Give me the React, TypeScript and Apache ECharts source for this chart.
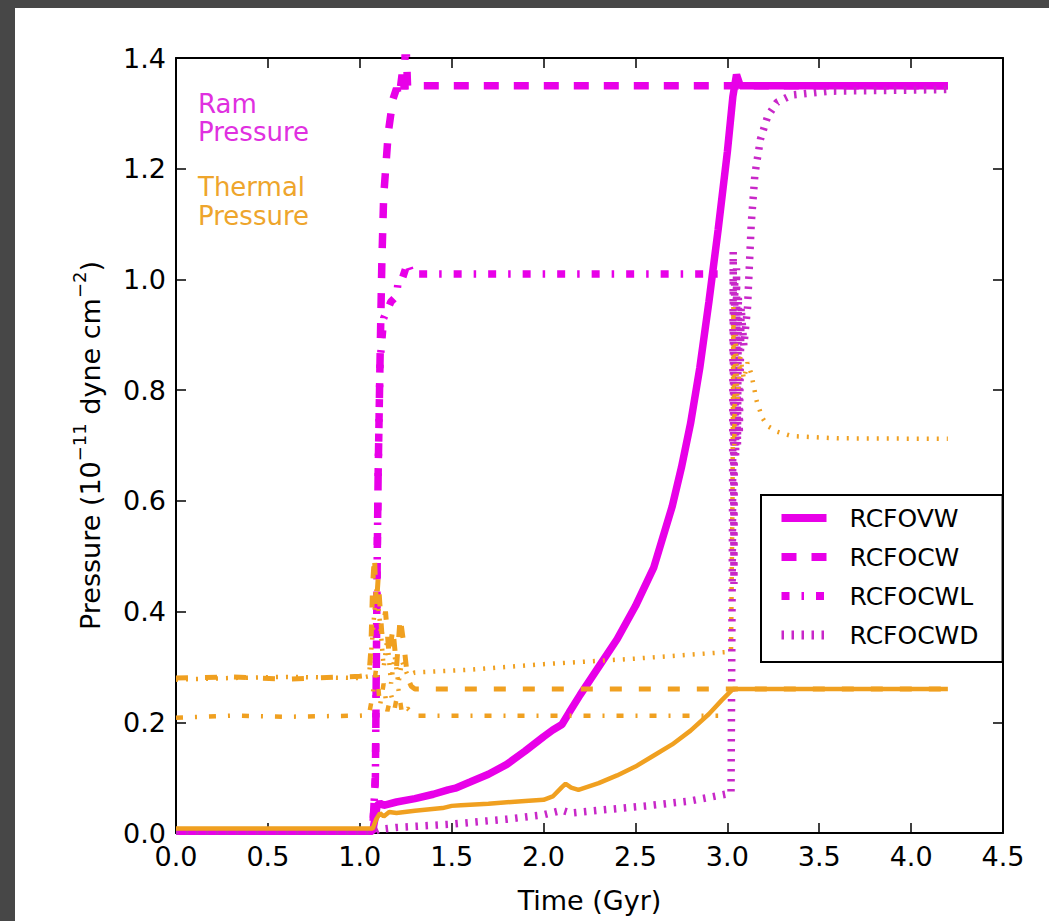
import React, { useEffect, useRef } from "react";
import * as echarts from "echarts";

const FONT = "'DejaVu Sans', 'Liberation Sans', sans-serif";
const MAGENTA = "#e800e8";
const MAGENTA_DOT = "#c828c8";
const ORANGE = "#f0a020";

const xTicks = { min: 0, max: 4.5, interval: 0.5 };
const yTicks = { min: 0, max: 1.4, interval: 0.2 };

const seriesNames = ["RCFOVW", "RCFOCW", "RCFOCWL", "RCFOCWD"];

// Ram pressure [time (Gyr), pressure]
const ramVW: number[][] = [
  [0, 0.003], [1.07, 0.003], [1.085, 0.03], [1.095, 0.05], [1.11, 0.054], [1.13, 0.05],
  [1.2, 0.056], [1.3, 0.062], [1.4, 0.07], [1.48, 0.078], [1.52, 0.081], [1.6, 0.092],
  [1.7, 0.106], [1.8, 0.124], [1.9, 0.148], [2.0, 0.174], [2.05, 0.186], [2.1, 0.196],
  [2.14, 0.218], [2.2, 0.25], [2.3, 0.3], [2.4, 0.35], [2.5, 0.41], [2.6, 0.48],
  [2.7, 0.59], [2.75, 0.66], [2.8, 0.74], [2.85, 0.84], [2.9, 0.96], [2.95, 1.09],
  [3.0, 1.23], [3.03, 1.33], [3.05, 1.37], [3.07, 1.35], [4.2, 1.35],
];
const ramCW: number[][] = [
  [0, 0.003], [1.07, 0.003], [1.085, 0.1], [1.09, 0.3], [1.095, 0.5], [1.1, 0.65],
  [1.11, 0.85], [1.12, 1.03], [1.13, 1.15], [1.155, 1.265], [1.18, 1.325], [1.2, 1.345],
  [1.215, 1.33], [1.23, 1.37], [1.24, 1.34], [1.25, 1.44], [1.26, 1.35], [1.3, 1.35],
  [4.2, 1.35],
];
const ramCWL: number[][] = [
  [0, 0.003], [1.07, 0.003], [1.085, 0.1], [1.09, 0.3], [1.095, 0.5], [1.1, 0.65],
  [1.11, 0.85], [1.13, 0.93], [1.17, 0.96], [1.2, 0.97], [1.21, 1.0], [1.23, 1.0],
  [1.26, 1.03], [1.28, 1.01], [2.97, 1.01],
];
const ramCWD: number[][] = [
  [0, 0.003], [1.08, 0.003], [1.1, 0.006], [1.2, 0.01], [1.5, 0.016], [1.8, 0.025],
  [2.0, 0.033], [2.1, 0.041], [2.15, 0.036], [2.3, 0.041], [2.56, 0.049], [2.8, 0.058],
  [2.99, 0.07], [3.02, 0.072], [3.028, 0.55], [3.032, 1.05], [3.036, 0.45], [3.04, 1.0],
  [3.045, 0.68], [3.05, 1.02], [3.055, 0.7], [3.06, 0.97], [3.065, 0.72], [3.075, 0.95],
  [3.09, 0.88], [3.11, 0.95], [3.13, 1.1], [3.15, 1.19], [3.18, 1.253], [3.22, 1.295],
  [3.27, 1.32], [3.35, 1.333], [3.55, 1.34], [4.2, 1.343],
];

// Thermal pressure [time (Gyr), pressure]
const thVW: number[][] = [
  [0, 0.008], [1.07, 0.008], [1.09, 0.025], [1.11, 0.036], [1.13, 0.03], [1.16, 0.038],
  [1.2, 0.036], [1.3, 0.04], [1.45, 0.045], [1.5, 0.049], [1.55, 0.05], [1.7, 0.053],
  [1.9, 0.058], [2.0, 0.06], [2.05, 0.066], [2.1, 0.083], [2.12, 0.089], [2.15, 0.082],
  [2.19, 0.078], [2.3, 0.09], [2.4, 0.104], [2.5, 0.12], [2.6, 0.14], [2.7, 0.16],
  [2.8, 0.185], [2.9, 0.215], [2.97, 0.24], [3.03, 0.26], [4.2, 0.26],
];
const thCW: number[][] = [
  [0, 0.28], [0.3, 0.282], [0.6, 0.278], [1.0, 0.283], [1.05, 0.285], [1.06, 0.33],
  [1.07, 0.45], [1.08, 0.5], [1.09, 0.41], [1.1, 0.46], [1.12, 0.36], [1.14, 0.4],
  [1.16, 0.32], [1.18, 0.37], [1.2, 0.3], [1.22, 0.39], [1.24, 0.34], [1.26, 0.28],
  [1.28, 0.265], [1.3, 0.26], [4.2, 0.26],
];
const thCWL: number[][] = [
  [0, 0.208], [0.3, 0.212], [0.6, 0.21], [1.0, 0.212], [1.05, 0.213], [1.07, 0.25],
  [1.09, 0.3], [1.11, 0.23], [1.13, 0.27], [1.15, 0.22], [1.17, 0.25], [1.19, 0.225],
  [1.21, 0.26], [1.23, 0.215], [1.26, 0.225], [1.3, 0.212], [2.95, 0.212],
];
const thCWD: number[][] = [
  [0, 0.277], [0.3, 0.28], [0.6, 0.282], [1.0, 0.28], [1.05, 0.283], [1.07, 0.36],
  [1.09, 0.44], [1.11, 0.38], [1.13, 0.3], [1.15, 0.35], [1.17, 0.27], [1.19, 0.32],
  [1.21, 0.27], [1.23, 0.31], [1.26, 0.285], [1.3, 0.29], [1.6, 0.295], [2.0, 0.305],
  [2.5, 0.315], [3.0, 0.327], [3.02, 0.33], [3.028, 0.6], [3.033, 0.95], [3.038, 0.7],
  [3.045, 0.9], [3.055, 0.78], [3.07, 0.86], [3.09, 0.82], [3.11, 0.85], [3.13, 0.83],
  [3.16, 0.78], [3.19, 0.75], [3.22, 0.735], [3.27, 0.725], [3.35, 0.717], [3.6, 0.713],
  [4.2, 0.712],
];

const DASHED_R = [15, 15];
const DASHED_T = [12, 17];
const DASHDOT_R = [8, 12, 2.5, 12];
const DASHDOT_T = [7, 12, 2, 12];
const DOTTED_R = [2.5, 7.5];
const DOTTED_T = [2, 8];

export default function App() {
  const ref = useRef<HTMLDivElement>(null);

  useEffect(() => {
    if (!ref.current) return;
    const chart = echarts.init(ref.current, undefined, { renderer: "svg" });
    const fmt = (v: number) => v.toFixed(1);

    const line = (name: string, data: number[][], color: string, width: number, type: any) => ({
      name,
      type: "line",
      data,
      symbol: "none",
      silent: true,
      clip: true,
      lineStyle: { color, width, type, cap: "butt" },
      itemStyle: { color },
      emphasis: { disabled: true },
    });

    const axisLine = { show: true, onZero: false, lineStyle: { color: "#000", width: 2 } };
    const axisTick = { show: true, inside: true, length: 10, lineStyle: { color: "#000", width: 1.5 } };
    const label = { fontSize: 27, fontFamily: FONT, color: "#000" };
    const hideSym = { opacity: 0, color: "rgba(0,0,0,0)", borderWidth: 0 };

    chart.setOption({
      animation: false,
      backgroundColor: "#474747",
      grid: { left: 176, right: 46, top: 58, bottom: 80, containLabel: false },
      graphic: [
        {
          type: "rect",
          z: -10,
          silent: true,
          shape: { x: 15, y: 8, width: 1034, height: 913 },
          style: { fill: "#ffffff" },
        },
        {
          type: "text", x: 198, y: 104, silent: true,
          style: { text: "Ram", fill: "#e030e0", font: `26px ${FONT}`, verticalAlign: "middle" },
        },
        {
          type: "text", x: 198, y: 132, silent: true,
          style: { text: "Pressure", fill: "#e030e0", font: `26px ${FONT}`, verticalAlign: "middle" },
        },
        {
          type: "text", x: 198, y: 187, silent: true,
          style: { text: "Thermal", fill: "#eea52c", font: `26px ${FONT}`, verticalAlign: "middle" },
        },
        {
          type: "text", x: 198, y: 216, silent: true,
          style: { text: "Pressure", fill: "#eea52c", font: `26px ${FONT}`, verticalAlign: "middle" },
        },
      ],
      legend: {
        orient: "vertical",
        left: 761,
        top: 495,
        padding: [8, 24, 12, 16],
        itemWidth: 45,
        itemHeight: 14,
        itemGap: 9,
        borderColor: "#000",
        borderWidth: 2,
        borderRadius: 0,
        backgroundColor: "#fff",
        selectedMode: false,
        textStyle: { fontSize: 25, fontFamily: FONT, color: "#000", lineHeight: 30, padding: [0, 0, 0, 18] },
        data: [
          { name: seriesNames[0], itemStyle: hideSym, lineStyle: { width: 8, type: "solid" } },
          { name: seriesNames[1], itemStyle: hideSym, lineStyle: { width: 8, type: DASHED_R } },
          { name: seriesNames[2], itemStyle: hideSym, lineStyle: { width: 8, type: DASHDOT_R } },
          { name: seriesNames[3], itemStyle: hideSym, lineStyle: { width: 9, type: DOTTED_R } },
        ],
      },
      xAxis: [
        {
          type: "value", ...xTicks, position: "bottom",
          axisLine, axisTick, splitLine: { show: false },
          axisLabel: { ...label, margin: 10, formatter: fmt },
          name: "Time (Gyr)", nameLocation: "middle", nameGap: 51,
          nameTextStyle: { ...label, lineHeight: 32 },
        },
        {
          type: "value", ...xTicks, position: "top",
          axisLine, axisTick, splitLine: { show: false }, axisLabel: { show: false },
        },
      ],
      yAxis: [
        {
          type: "value", ...yTicks, position: "left",
          axisLine, axisTick, splitLine: { show: false },
          axisLabel: { ...label, margin: 10, formatter: fmt },
          name: "Pressure (10{sup|\u221211} dyne cm{sup|\u22122})",
          nameLocation: "middle", nameGap: 66,
          nameTextStyle: {
            ...label, lineHeight: 40,
            rich: { sup: { fontSize: 18, fontFamily: FONT, color: "#000", lineHeight: 22, verticalAlign: "top" } },
          },
        },
        {
          type: "value", ...yTicks, position: "right",
          axisLine, axisTick, splitLine: { show: false }, axisLabel: { show: false },
        },
      ],
      series: [
        line(seriesNames[0], ramVW, MAGENTA, 7.5, "solid"),
        line(seriesNames[1], ramCW, MAGENTA, 7.5, DASHED_R),
        line(seriesNames[2], ramCWL, MAGENTA, 7.5, DASHDOT_R),
        line(seriesNames[3], ramCWD, MAGENTA_DOT, 7.5, DOTTED_R),
        line("RCFOVW thermal", thVW, ORANGE, 4.5, "solid"),
        line("RCFOCW thermal", thCW, ORANGE, 5, DASHED_T),
        line("RCFOCWL thermal", thCWL, ORANGE, 4.5, DASHDOT_T),
        line("RCFOCWD thermal", thCWD, ORANGE, 4.5, DOTTED_T),
      ],
    });

    return () => chart.dispose();
  }, []);

  return (
    <div
      ref={ref}
      style={{ position: "fixed", left: 0, top: 0, width: 1049, height: 921 }}
    />
  );
}
